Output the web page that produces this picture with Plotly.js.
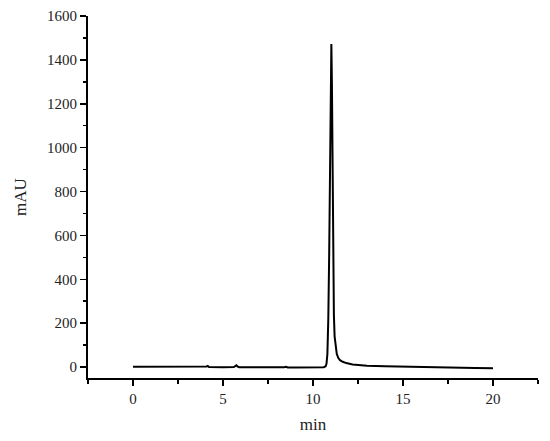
<!DOCTYPE html>
<html>
<head>
<meta charset="utf-8">
<script src="https://cdn.plot.ly/plotly-3.0.1.min.js"></script>
<style>
  html, body { margin: 0; padding: 0; background: #fff; }
  #chart { width: 550px; height: 441px; }
</style>
</head>
<body>
<div id="chart"></div>
<script>
// retention time (min) and detector signal (mAU)
var timeMin = [0, 1, 2, 3, 4, 4.08, 4.15, 4.22, 5, 5.6, 5.7, 5.75, 5.8, 5.9, 6, 7, 8, 8.4, 8.5, 8.6, 9, 10, 10.5,
               10.6, 10.7, 10.75, 10.8, 10.85, 10.9, 10.95, 10.99, 11.02, 11.05, 11.08, 11.1, 11.13,
               11.16, 11.2, 11.25, 11.32, 11.4, 11.5, 11.65, 11.85, 12.2, 12.6, 13, 14, 15, 16, 17, 18, 19, 20];
var signalMAU = [1, 1, 0, 0, 0, 2, 5, 0, -1, 0, 5, 8, 3, -1, -1, -2, -2, -1, 1, -2, -2, -2, -2,
                 -1, 3, 15, 60, 220, 520, 900, 1300, 1472, 1300, 1000, 700, 420,
                 240, 140, 90, 60, 42, 31, 24, 18, 12, 9, 6, 3, 1, 0, -2, -3, -4, -5];

var xTicks = [0, 5, 10, 15, 20];
var yTicks = [0, 200, 400, 600, 800, 1000, 1200, 1400, 1600];

var serif = '"Liberation Serif", "DejaVu Serif", serif';

var trace = {
    x: timeMin,
    y: signalMAU,
    type: 'scatter',
    mode: 'lines',
    line: { color: '#000', width: 2 },
    hoverinfo: 'none'
};

var layout = {
    width: 550,
    height: 441,
    margin: { l: 88, r: 12, t: 16, b: 63 },
    paper_bgcolor: '#fff',
    plot_bgcolor: '#fff',
    showlegend: false,
    font: { family: serif, size: 15, color: '#222' },
    xaxis: {
        range: [-2.5, 22.5],
        tickvals: xTicks,
        ticktext: xTicks.map(String),
        tickfont: { family: serif, size: 15 },
        showgrid: false,
        zeroline: false,
        showline: true,
        linecolor: '#000',
        linewidth: 2,
        ticks: 'outside',
        ticklen: 6,
        tickwidth: 1.5,
        tickcolor: '#000',
        minor: { dtick: 2.5, tick0: 0, ticks: 'outside', ticklen: 4, tickwidth: 1.5, tickcolor: '#000' },
        title: { text: 'min', font: { family: serif, size: 17 }, standoff: 12 }
    },
    yaxis: {
        range: [-50, 1600],
        tickvals: yTicks,
        ticktext: yTicks.map(String),
        tickfont: { family: serif, size: 15 },
        showgrid: false,
        zeroline: false,
        showline: true,
        linecolor: '#000',
        linewidth: 2,
        ticks: 'outside',
        ticklen: 6,
        tickwidth: 1.5,
        tickcolor: '#000',
        minor: { dtick: 100, tick0: 0, ticks: 'outside', ticklen: 3, tickwidth: 1.5, tickcolor: '#000' },
        title: { text: 'mAU', font: { family: serif, size: 17 }, standoff: 16 }
    }
};

Plotly.newPlot('chart', [trace], layout, { displayModeBar: false, staticPlot: true });
</script>
</body>
</html>
